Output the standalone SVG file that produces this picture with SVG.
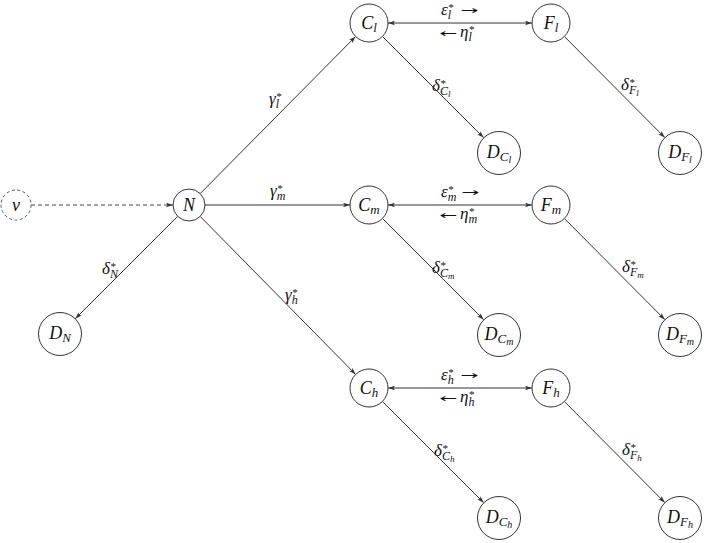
<svg xmlns="http://www.w3.org/2000/svg" width="709" height="543" viewBox="0 0 709 543">
<defs>
<marker id="ah" viewBox="0 0 7 5" refX="7" refY="2.5" markerWidth="7" markerHeight="5" markerUnits="userSpaceOnUse" orient="auto-start-reverse">
<path d="M0,0.2 L7,2.5 L0,4.8 L1.6,2.5 z" fill="#333"/>
</marker>
</defs>
<style>
.node circle{fill:#fff;stroke:#333;stroke-width:1}
.lbl{font-family:"Liberation Serif","DejaVu Serif",serif;font-style:italic;fill:#111}
.nl{font-size:18px}
.ns{font-size:13px}
.nss{font-size:10px}
.el{font-size:17px}
.sm{font-size:11px}
.sb{font-size:12px}
.ss{font-size:9px}
.ar{font-family:"DejaVu Sans",sans-serif;font-style:normal;font-size:11px;fill:#111}
.edge{stroke:#333;stroke-width:1;fill:none;marker-end:url(#ah)}
.both{marker-start:url(#ah)}
.dash{stroke-dasharray:4 3;stroke:#444}
</style>
<rect width="709" height="543" fill="#fff"/>
<g id="connectors">
<line class="edge dash" x1="31" y1="205" x2="173" y2="205"/>
<line class="edge" x1="200.2" y1="193.6" x2="355.6" y2="36.5"/>
<line class="edge" x1="205" y1="205" x2="350" y2="205"/>
<line class="edge" x1="200.2" y1="216.4" x2="355.7" y2="374.5"/>
<line class="edge" x1="177.7" y1="216.3" x2="75.2" y2="318.8"/>
<line class="edge both" x1="388" y1="23" x2="532" y2="23"/>
<line class="edge both" x1="388" y1="205" x2="532" y2="205"/>
<line class="edge both" x1="388" y1="388" x2="532" y2="388"/>
<line class="edge" x1="382.4" y1="36.4" x2="483.8" y2="137.8"/>
<line class="edge" x1="382.4" y1="218.4" x2="483.8" y2="319.8"/>
<line class="edge" x1="382.4" y1="401.4" x2="483.8" y2="502.8"/>
<line class="edge" x1="564.4" y1="36.5" x2="664.9" y2="137.7"/>
<line class="edge" x1="564.4" y1="218.5" x2="664.9" y2="319.7"/>
<line class="edge" x1="564.4" y1="401.5" x2="664.9" y2="502.7"/>
</g>
<g id="edge-labels">
<text class="lbl el" x="269" y="104">γ<tspan class="sm" dy="-4">*</tspan><tspan class="sb" dx="-5.5" dy="8">l</tspan></text>
<text class="lbl el" x="270" y="196">γ<tspan class="sm" dy="-4">*</tspan><tspan class="sb" dx="-5.5" dy="8">m</tspan></text>
<text class="lbl el" x="285" y="300">γ<tspan class="sm" dy="-4">*</tspan><tspan class="sb" dx="-5.5" dy="8">h</tspan></text>
<text class="lbl el" x="102" y="274">δ<tspan class="sm" dy="-4">*</tspan><tspan class="sb" dx="-5.5" dy="8">N</tspan></text>

<text class="lbl el" x="441" y="15">ε<tspan class="sm" dy="-4">*</tspan><tspan class="sb" dx="-5.5" dy="8">l</tspan></text>
<text class="ar" x="460" y="14" textLength="18" lengthAdjust="spacingAndGlyphs">→</text>
<text class="ar" x="439" y="37" textLength="18" lengthAdjust="spacingAndGlyphs">←</text>
<text class="lbl el" x="460" y="37">η<tspan class="sm" dy="-4">*</tspan><tspan class="sb" dx="-5.5" dy="8">l</tspan></text>

<text class="lbl el" x="441" y="197">ε<tspan class="sm" dy="-4">*</tspan><tspan class="sb" dx="-5.5" dy="8">m</tspan></text>
<text class="ar" x="461" y="196" textLength="18" lengthAdjust="spacingAndGlyphs">→</text>
<text class="ar" x="439" y="219" textLength="18" lengthAdjust="spacingAndGlyphs">←</text>
<text class="lbl el" x="460" y="219">η<tspan class="sm" dy="-4">*</tspan><tspan class="sb" dx="-5.5" dy="8">m</tspan></text>

<text class="lbl el" x="441" y="380">ε<tspan class="sm" dy="-4">*</tspan><tspan class="sb" dx="-5.5" dy="8">h</tspan></text>
<text class="ar" x="460" y="379" textLength="18" lengthAdjust="spacingAndGlyphs">→</text>
<text class="ar" x="439" y="402" textLength="18" lengthAdjust="spacingAndGlyphs">←</text>
<text class="lbl el" x="460" y="402">η<tspan class="sm" dy="-4">*</tspan><tspan class="sb" dx="-5.5" dy="8">h</tspan></text>

<text class="lbl el" x="432" y="91">δ<tspan class="sm" dy="-4">*</tspan><tspan class="sb" dx="-5.5" dy="8">C</tspan><tspan class="ss" dy="2">l</tspan></text>
<text class="lbl el" x="432" y="273">δ<tspan class="sm" dy="-4">*</tspan><tspan class="sb" dx="-5.5" dy="8">C</tspan><tspan class="ss" dy="2">m</tspan></text>
<text class="lbl el" x="434" y="456">δ<tspan class="sm" dy="-4">*</tspan><tspan class="sb" dx="-5.5" dy="8">C</tspan><tspan class="ss" dy="2">h</tspan></text>
<text class="lbl el" x="621" y="90">δ<tspan class="sm" dy="-4">*</tspan><tspan class="sb" dx="-5.5" dy="8">F</tspan><tspan class="ss" dy="2">l</tspan></text>
<text class="lbl el" x="622" y="272">δ<tspan class="sm" dy="-4">*</tspan><tspan class="sb" dx="-5.5" dy="8">F</tspan><tspan class="ss" dy="2">m</tspan></text>
<text class="lbl el" x="622" y="455">δ<tspan class="sm" dy="-4">*</tspan><tspan class="sb" dx="-5.5" dy="8">F</tspan><tspan class="ss" dy="2">h</tspan></text>
</g>
<g id="node-nu" class="node"><circle cx="16" cy="205" r="15" style="stroke:#555;stroke-dasharray:3 2.5"/><text class="lbl nl" x="16" y="211" text-anchor="middle">ν</text></g>
<g id="node-N" class="node"><circle cx="189" cy="205" r="16"/><text class="lbl nl" x="189" y="211" text-anchor="middle">N</text></g>
<g id="node-DN" class="node"><circle cx="60" cy="334" r="21.5"/><text class="lbl nl" x="60" y="339" text-anchor="middle">D<tspan class="ns" dy="3">N</tspan></text></g>
<g id="node-Cl" class="node"><circle cx="369" cy="23" r="19"/><text class="lbl nl" x="369" y="29" text-anchor="middle">C<tspan class="ns" dy="3">l</tspan></text></g>
<g id="node-Cm" class="node"><circle cx="369" cy="205" r="19"/><text class="lbl nl" x="369" y="211" text-anchor="middle">C<tspan class="ns" dy="3">m</tspan></text></g>
<g id="node-Ch" class="node"><circle cx="369" cy="388" r="19"/><text class="lbl nl" x="369" y="394" text-anchor="middle">C<tspan class="ns" dy="3">h</tspan></text></g>
<g id="node-Fl" class="node"><circle cx="551" cy="23" r="19"/><text class="lbl nl" x="551" y="29" text-anchor="middle">F<tspan class="ns" dy="3">l</tspan></text></g>
<g id="node-Fm" class="node"><circle cx="551" cy="205" r="19"/><text class="lbl nl" x="551" y="211" text-anchor="middle">F<tspan class="ns" dy="3">m</tspan></text></g>
<g id="node-Fh" class="node"><circle cx="551" cy="388" r="19"/><text class="lbl nl" x="551" y="394" text-anchor="middle">F<tspan class="ns" dy="3">h</tspan></text></g>
<g id="node-DCl" class="node"><circle cx="499" cy="153" r="21.5"/><text class="lbl nl" x="499" y="158" text-anchor="middle">D<tspan class="ns" dy="3">C</tspan><tspan class="nss" dy="2">l</tspan></text></g>
<g id="node-DCm" class="node"><circle cx="499" cy="335" r="21.5"/><text class="lbl nl" x="499" y="340" text-anchor="middle">D<tspan class="ns" dy="3">C</tspan><tspan class="nss" dy="2">m</tspan></text></g>
<g id="node-DCh" class="node"><circle cx="499" cy="518" r="21.5"/><text class="lbl nl" x="499" y="523" text-anchor="middle">D<tspan class="ns" dy="3">C</tspan><tspan class="nss" dy="2">h</tspan></text></g>
<g id="node-DFl" class="node"><circle cx="680" cy="153" r="21.5"/><text class="lbl nl" x="680" y="158" text-anchor="middle">D<tspan class="ns" dy="3">F</tspan><tspan class="nss" dy="2">l</tspan></text></g>
<g id="node-DFm" class="node"><circle cx="680" cy="335" r="21.5"/><text class="lbl nl" x="680" y="340" text-anchor="middle">D<tspan class="ns" dy="3">F</tspan><tspan class="nss" dy="2">m</tspan></text></g>
<g id="node-DFh" class="node"><circle cx="680" cy="518" r="21.5"/><text class="lbl nl" x="680" y="523" text-anchor="middle">D<tspan class="ns" dy="3">F</tspan><tspan class="nss" dy="2">h</tspan></text></g>
</svg>
